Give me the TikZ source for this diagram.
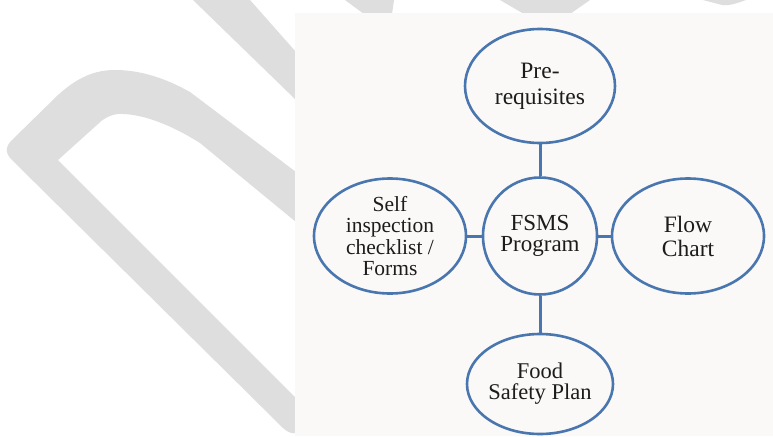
\documentclass[tikz,border=0pt]{standalone}
\usepackage{fontspec}
\setmainfont{Liberation Serif}
\usetikzlibrary{shapes.geometric}

\definecolor{wmgrey}{RGB}{222,222,222}
\definecolor{panelbg}{RGB}{250,249,247}
\definecolor{ringblue}{RGB}{74,118,176}
\definecolor{inkgrey}{RGB}{28,28,28}

\begin{document}
\begin{tikzpicture}[x=1pt,y=-1pt,
  bubble/.style={ellipse, draw=ringblue, line width=2.6pt, fill=panelbg,
    inner sep=0pt, align=center, text=inkgrey,
    font=\fontsize{23}{21.5}\selectfont},
  link/.style={draw=ringblue, line width=3pt}]
\useasboundingbox (0,0) rectangle (773,436);
\fill[white] (0,0) rectangle (773,436);

% faint grey watermark strokes
\fill[wmgrey] (283,428) -- (12,160) .. controls (5,153) and (5,147) .. (12,140)
  -- (58,95) .. controls (78,77) and (95,70) .. (115,70)
  .. controls (140,70) and (165,78) .. (190,92) -- (296,172) -- (296,222)
  -- (200,143) .. controls (170,124) and (140,113) .. (118,114)
  .. controls (110,115) and (104,118) .. (98,124) -- (58,160)
  -- (296,398) -- (296,433) .. controls (292,434) and (287,432) .. (283,428) -- cycle;
\fill[wmgrey] (193,0) -- (250,0) -- (296,52) -- (296,100) -- cycle;
\fill[wmgrey] (345,0) -- (394,0) -- (392,14) -- (364,14) -- cycle;
\fill[wmgrey] (500,0) -- (590,0) -- (570,14) -- (524,14) -- cycle;
\fill[wmgrey] (703,0) -- (746,0) .. controls (735,4) and (728,6) .. (722,5) -- cycle;

% diagram panel
\fill[panelbg] (295,13) rectangle (773,436);

% nodes
\node[bubble, minimum width=150pt, minimum height=114pt,
  font=\fontsize{23.5}{26}\selectfont] (pre) at (540,86) {Pre-\\requisites};
\node[bubble, minimum width=114pt, minimum height=117pt] (hub) at (540,236) {FSMS\\Program};
\node[bubble, minimum width=152pt, minimum height=115pt,
  font=\fontsize{21.5}{21.3}\selectfont] (self) at (390,236) {Self\\inspection\\checklist /\\Forms};
\node[bubble, minimum width=152pt, minimum height=115pt,
  font=\fontsize{23.5}{24}\selectfont] (flow) at (688,236) {Flow\\Chart};
\node[bubble, minimum width=146pt, minimum height=100pt,
  font=\fontsize{22.5}{21}\selectfont] (plan) at (540,384) {Food\\Safety Plan};

% connectors
\draw[link] (pre) -- (hub);
\draw[link] (hub) -- (plan);
\draw[link] (self) -- (hub);
\draw[link] (hub) -- (flow);
\end{tikzpicture}
\end{document}
